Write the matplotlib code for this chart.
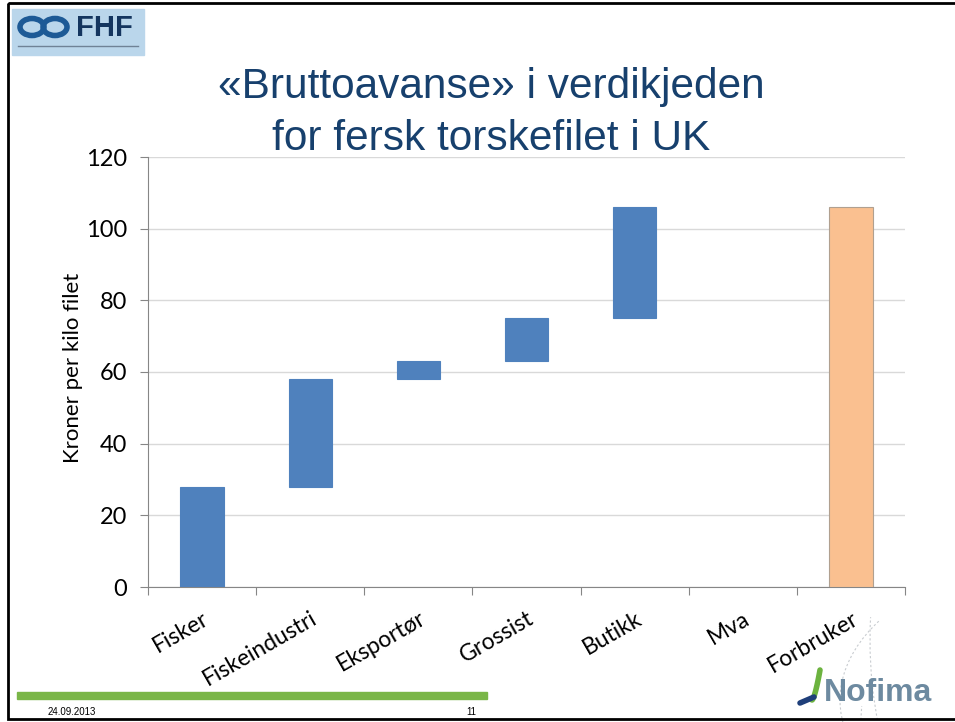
import matplotlib.pyplot as plt
import numpy as np
from matplotlib.patches import Rectangle, Arc, Ellipse

# Data
categories = ['Fisker', 'Fiskeindustri', 'Eksportør', 'Grossist', 'Butikk', 'Mva', 'Forbruker']
bar_bottom = [0, 28, 58, 63, 75, 106, 0]
bar_top = [28, 58, 63, 75, 106, 106, 106]
bar_colors = ['#4f81bd', '#4f81bd', '#4f81bd', '#4f81bd', '#4f81bd', '#4f81bd', '#fac090']
y_ticks = [0, 20, 40, 60, 80, 100, 120]

title_color = '#17406d'

fig = plt.figure(figsize=(9.55, 7.22), dpi=100)

# background layer in pixel coordinates (slide decorations)
bg = fig.add_axes([0, 0, 1, 1], zorder=0)
bg.set_xlim(0, 955)
bg.set_ylim(722, 0)
bg.axis('off')

# faint decorative dashed arcs
for (cx, cy, w, h, t1, t2) in [(1010, 760, 300, 720, 90, 200),
                               (960, 880, 720, 780, 100, 170),
                               (880, 900, 520, 560, 95, 175),
                               (760, 860, 320, 760, 60, 180),
                               (1100, 700, 520, 300, 120, 200),
                               (1000, 640, 260, 480, 95, 190)]:
    bg.add_patch(Arc((cx, cy), w, h, theta1=t1, theta2=t2, color='#c8ccd0',
                     lw=0.8, ls=(0, (2, 2))))

# slide frame
bg.add_patch(Rectangle((8, 3), 960, 716, fill=False, ec='black', lw=2))

# FHF logo
bg.add_patch(Rectangle((12, 9), 132, 46, color='#bad6eb'))
bg.add_patch(Ellipse((32, 27), 24, 17, fill=False, ec='#1d5a96', lw=4))
bg.add_patch(Ellipse((55, 27), 24, 17, fill=False, ec='#1d5a96', lw=4))
bg.text(104, 28, 'FHF', color='#14355f', fontsize=21, fontweight='bold',
        family='Liberation Sans', ha='center', va='center')
bg.plot([18, 138], [46, 46], color='#6f8296', lw=1)

# footer
bg.add_patch(Rectangle((17, 692), 470, 7, color='#7ab648'))
bg.text(48, 712, '24.09.2013', fontsize=7, family='Liberation Sans', va='center')
bg.text(466, 712, '11', fontsize=7, family='Liberation Sans', va='center')

# Nofima logo
t = np.linspace(0, 1, 30)
bg.plot(812 + 8 * t, 700 - 30 * t ** 1.5, color='#6cb33f', lw=4, solid_capstyle='round')
bg.plot(800 + 14 * t, 703 - 6 * t, color='#1f3f7a', lw=4, solid_capstyle='round')
bg.text(824, 693, 'Nofima', color='#6d8aa0', fontsize=23, fontweight='bold',
        family='Liberation Sans', va='center')

# title
bg.text(491, 87, '«Bruttoavanse» i verdikjeden', color=title_color, fontsize=30.5,
        family='Liberation Sans', ha='center', va='center')
bg.text(491, 139, 'for fersk torskefilet i UK', color=title_color, fontsize=30.5,
        family='Liberation Sans', ha='center', va='center')

# chart
ax = fig.add_axes([148 / 955, (722 - 587) / 722, 757 / 955, 430 / 722], zorder=1)
ax.patch.set_alpha(0)
x = np.arange(len(categories))
heights = [t_ - b for t_, b in zip(bar_top, bar_bottom)]
for i in range(len(categories)):
    ec = '#b0a090' if bar_colors[i] == '#fac090' else bar_colors[i]
    lw = 0.8 if heights[i] > 0 else 0
    ax.bar(x[i], heights[i], bottom=bar_bottom[i], width=0.4,
           color=bar_colors[i], edgecolor=ec, lw=lw, zorder=3)

ax.set_xlim(-0.5, len(categories) - 0.5)
ax.set_ylim(0, 120)
ax.set_yticks(y_ticks)
ax.set_yticklabels([str(v) for v in y_ticks], fontsize=17, family='Lato')
ax.yaxis.grid(True, color='#d9d9d9', lw=1, zorder=0)
ax.set_ylabel('Kroner per kilo filet', fontsize=16, family='Lato')
ax.yaxis.set_label_coords(-0.086, 0.51)

ax.set_xticks(np.arange(len(categories) + 1) - 0.5)
ax.set_xticklabels([])
ax.set_xticks(x, minor=True)
ax.set_xticklabels(categories, minor=True, rotation=30, ha='right',
                   rotation_mode='anchor', fontsize=16.5, family='Lato')
ax.tick_params(axis='x', which='minor', length=0, pad=15)
ax.tick_params(axis='x', which='major', length=6, color='#868686', direction='out')
ax.tick_params(axis='y', length=6, color='#868686', pad=9)

for s in ['top', 'right']:
    ax.spines[s].set_visible(False)
for s in ['left', 'bottom']:
    ax.spines[s].set_color('#868686')

fig.savefig('out.png', dpi=100)
